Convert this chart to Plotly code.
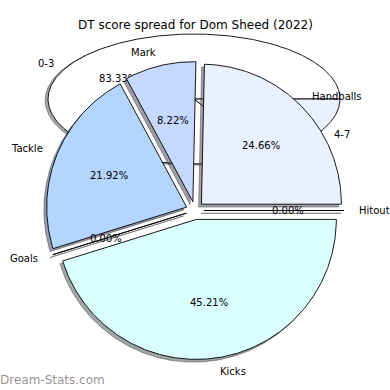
import numpy as np
import plotly.graph_objects as go

# ---------------- data ----------------
chart_title = "DT score spread for Dom Sheed (2022)"
stat_labels = ["Handballs", "Mark", "Tackle", "Goals", "Kicks", "Hitout"]
stat_counts = [18, 6, 16, 0, 33, 0]
band_labels = ["0-3", "4-7"]
band_counts = [5, 1]
watermark = "Dream-Stats.com"

# ---------------- style ----------------
stat_colors = ["#e9f0ff", "#c5d8ff", "#b4d5ff", "#ffffff", "#d9ffff", "#ffffff"]
band_colors = ["#ffffff", "#e9f0ff"]
FONT = "DejaVu Sans"

# geometry in pixel-like data units (y grows downward)
IN_C = (195.0, 210.5)
IN_R = 140.0
IN_EXPL = 9.0
OUT_C = (194.0, 99.0)
OUT_RX = 146.0
OUT_RY = 65.0
SHADOW = 0.02


def hex_rgb(h):
    h = h.lstrip("#")
    return tuple(int(h[i:i + 2], 16) for i in (0, 2, 4))


def layout_pie(values, cx, cy, rx, ry, expl):
    tot = float(sum(values))
    t1 = 0.0
    out = []
    for v in values:
        t2 = t1 + v / tot * 360.0
        tm = np.radians((t1 + t2) / 2.0)
        wx = cx + expl * np.cos(tm)
        wy = cy - expl * np.sin(tm)
        out.append(dict(t1=t1, t2=t2, tm=tm, cx=wx, cy=wy, pct=v / tot * 100.0))
        t1 = t2
    return out


def wedge_path(cx, cy, rx, ry, t1, t2):
    n = max(2, int(abs(t2 - t1) / 0.5) + 1)
    th = np.radians(np.linspace(t1, t2, n))
    xs = np.concatenate([[cx], cx + rx * np.cos(th), [cx]])
    ys = np.concatenate([[cy], cy - ry * np.sin(th), [cy]])
    return xs, ys


fig = go.Figure()


def add_pie(values, colors, cx, cy, rx, ry, expl):
    geo = layout_pie(values, cx, cy, rx, ry, expl)
    # shadows first
    for g, col in zip(geo, colors):
        r, gg, b = hex_rgb(col)
        sc = "rgba(%d,%d,%d,0.5)" % (r * 0.3, gg * 0.3, b * 0.3)
        xs, ys = wedge_path(g["cx"] - SHADOW * rx, g["cy"] + SHADOW * ry, rx, ry, g["t1"], g["t2"])
        fig.add_trace(go.Scatter(x=xs, y=ys, mode="lines", fill="toself", fillcolor=sc,
                                 line=dict(color=sc, width=1), hoverinfo="skip", showlegend=False))
    for g, col in zip(geo, colors):
        xs, ys = wedge_path(g["cx"], g["cy"], rx, ry, g["t1"], g["t2"])
        fig.add_trace(go.Scatter(x=xs, y=ys, mode="lines", fill="toself", fillcolor=col,
                                 line=dict(color="black", width=0.9), hoverinfo="skip", showlegend=False))
    return geo


# outer (elliptical) pie
out_geo = add_pie(band_counts, band_colors, OUT_C[0], OUT_C[1], OUT_RX, OUT_RY, 0.0)
fig.add_trace(go.Scatter(
    x=[g["cx"] + 0.6 * OUT_RX * np.cos(g["tm"]) for g in out_geo],
    y=[g["cy"] - 0.6 * OUT_RY * np.sin(g["tm"]) for g in out_geo],
    mode="text", text=["%.2f%%" % g["pct"] for g in out_geo], textposition="middle center",
    textfont=dict(family=FONT, size=10, color="black"), hoverinfo="skip", showlegend=False))

# inner exploded pie
in_geo = add_pie(stat_counts, stat_colors, IN_C[0], IN_C[1], IN_R, IN_R, IN_EXPL)

annotations = []


def label(x, y, text, cosv, size=10):
    annotations.append(dict(x=x, y=y, xref="x", yref="y", text=text, showarrow=False,
                            xanchor="left" if cosv > 0 else "right", yanchor="middle",
                            xshift=-1 if cosv > 0 else 1,
                            font=dict(family=FONT, size=size, color="black")))


for g, lab in zip(out_geo, band_labels):
    c = np.cos(g["tm"])
    label(g["cx"] + 1.1 * OUT_RX * c, g["cy"] - 1.1 * OUT_RY * np.sin(g["tm"]), lab, c)

for g, lab in zip(in_geo, stat_labels):
    c = np.cos(g["tm"])
    label(g["cx"] + 1.1 * IN_R * c, g["cy"] - 1.1 * IN_R * np.sin(g["tm"]), lab, c)
    annotations.append(dict(x=g["cx"] + 0.6 * IN_R * c, y=g["cy"] - 0.6 * IN_R * np.sin(g["tm"]),
                            xref="x", yref="y", text="%.2f%%" % g["pct"], showarrow=False,
                            xanchor="center", yanchor="middle",
                            font=dict(family=FONT, size=10, color="black")))

annotations.append(dict(x=195, y=25, xref="x", yref="y", text=chart_title, showarrow=False,
                        xanchor="center", yanchor="middle",
                        font=dict(family=FONT, size=12, color="black")))
annotations.append(dict(x=0, y=380, xref="x", yref="y", text=watermark, showarrow=False,
                        xanchor="left", yanchor="middle", xshift=-2,
                        font=dict(family=FONT, size=12, color="rgba(110,110,110,0.75)")))

fig.update_layout(
    width=390, height=390, autosize=False,
    margin=dict(l=0, r=0, t=0, b=0),
    paper_bgcolor="white", plot_bgcolor="white",
    annotations=annotations, showlegend=False, hovermode=False,
    xaxis=dict(range=[0, 390], visible=False, fixedrange=True),
    yaxis=dict(range=[390, 0], visible=False, fixedrange=True),
)

fig.write_html("out.html", config={"displayModeBar": False, "staticPlot": True},
               post_script="document.body.style.margin='0px';document.body.style.overflow='hidden';")
